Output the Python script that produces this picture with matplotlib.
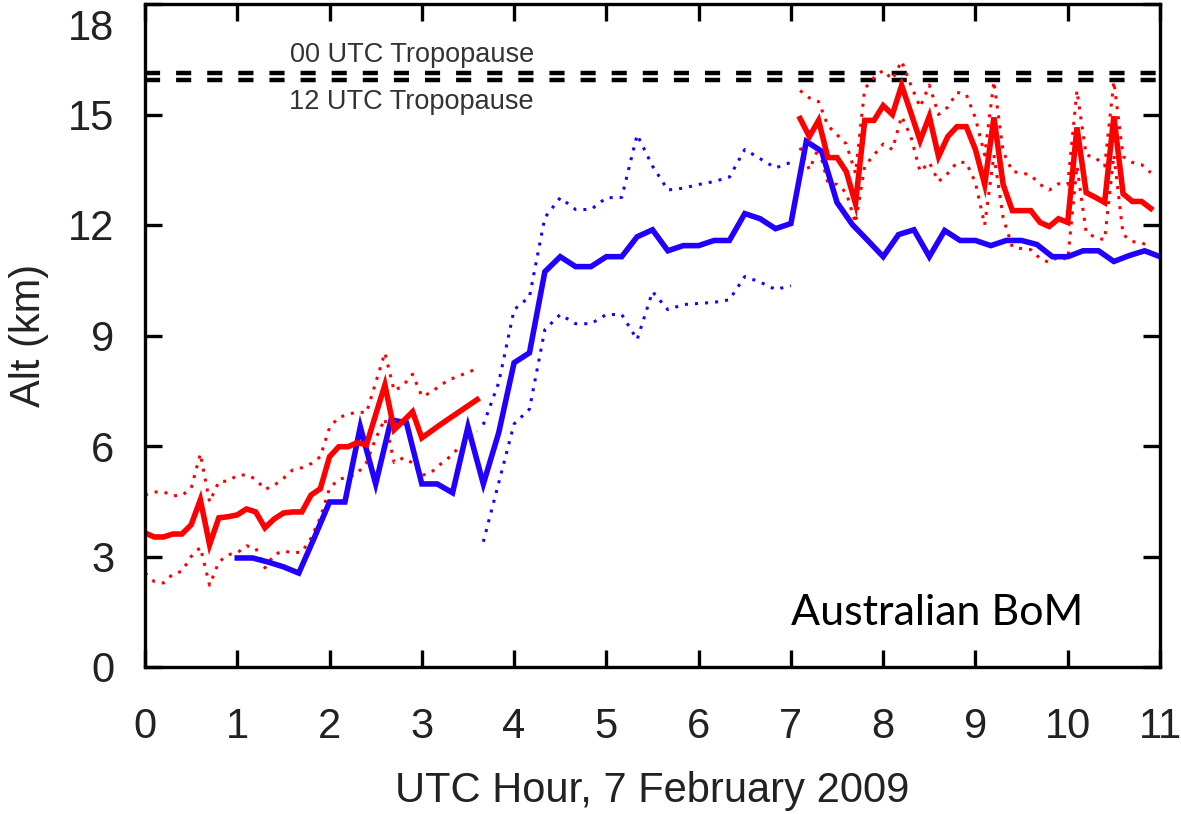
import numpy as np
import matplotlib
matplotlib.use('Agg')
import matplotlib.pyplot as plt
from matplotlib.transforms import ScaledTranslation

# BoM radar echo-top altitude (km) through the day, 7 Feb 2009
red_early_start, red_late_start, red_step = 0.0, 7.1, 0.1
red_early = [3.64, 3.53, 3.53, 3.61, 3.61, 3.86, 4.54, 3.32, 4.05, 4.08,
             4.13, 4.29, 4.21, 3.78, 4.02, 4.18, 4.21, 4.21, 4.67, 4.84,
             5.71, 5.98, 5.98, 6.09, 6.03, 6.85, 7.66, 6.44, 6.68, 6.93,
             6.22, 6.40, 6.58, 6.75, 6.92, 7.09, 7.26]
red_early_hi = [4.67, 4.75, 4.76, 4.65, 4.66, 4.85, 5.79, 4.48, 5.03, 5.05,
                5.20, 5.22, 5.10, 4.82, 4.93, 5.12, 5.35, 5.41, 5.52, 5.71,
                6.50, 6.78, 6.85, 6.93, 6.90, 7.72, 8.53, 7.50, 7.65, 7.95,
                7.35, 7.45, 7.65, 7.80, 7.90, 8.00, 8.10]
red_early_lo = [2.55, 2.32, 2.28, 2.52, 2.60, 3.00, 3.25, 2.22, 2.85, 3.05,
                3.10, 3.29, 3.23, 2.69, 3.05, 3.15, 3.10, 3.12, 3.50, 4.05,
                4.85, 5.10, 5.15, 5.25, 5.55, 6.20, 6.74, 5.55, 5.68, 5.54,
                5.20, 5.28, 5.50, 5.70, 5.95, 6.18, 6.40]

red_late = [14.89, 14.40, 14.84, 13.83, 13.83, 13.45, 12.58, 14.84, 14.84, 15.24,
            15.00, 15.79, 15.05, 14.29, 14.95, 13.86, 14.40, 14.67, 14.67, 14.05,
            13.10, 14.92, 13.10, 12.39, 12.39, 12.39, 12.07, 11.96, 12.17, 12.07,
            14.65, 12.88, 12.75, 12.61, 14.95, 12.85, 12.64, 12.64, 12.45]
red_late_hi = [15.65, 15.45, 15.35, 14.70, 14.45, 14.20, 13.40, 15.70, 16.00, 16.20,
               15.95, 16.45, 15.80, 15.20, 15.80, 15.00, 15.20, 15.60, 15.55, 14.90,
               13.90, 15.90, 14.00, 13.45, 13.42, 13.35, 13.10, 12.95, 13.12, 13.10,
               15.65, 13.90, 13.83, 13.60, 15.90, 13.86, 13.70, 13.64, 13.42]
red_late_lo = [14.10, 13.50, 14.10, 13.15, 13.10, 12.88, 12.05, 13.60, 13.90, 14.20,
               14.05, 14.95, 14.40, 13.45, 13.70, 13.18, 13.40, 13.70, 13.70, 13.15,
               12.00, 13.90, 12.20, 11.40, 11.36, 11.33, 11.09, 10.98, 11.14, 11.06,
               13.60, 11.80, 11.66, 11.60, 13.90, 11.74, 11.55, 11.52, 11.40]

blue_start, blue_bounds_start, blue_step = 1.0, 11 / 3, 1 / 6
blue = [2.96, 2.96, 2.85, 2.72, 2.55, 3.50, 4.48, 4.48, 6.52, 4.97,
        6.71, 6.63, 4.97, 4.97, 4.73, 6.52, 4.97, 6.36, 8.26, 8.53,
        10.73, 11.14, 10.87, 10.87, 11.14, 11.14, 11.68, 11.87, 11.30, 11.44,
        11.44, 11.58, 11.58, 12.31, 12.17, 11.90, 12.04, 14.27, 14.00, 12.61,
        12.01, 11.58, 11.14, 11.74, 11.87, 11.14, 11.85, 11.58, 11.58, 11.44,
        11.58, 11.58, 11.47, 11.14, 11.14, 11.30, 11.30, 11.01, 11.17, 11.30,
        11.14]
blue_hi = [6.58, 7.72, 9.70, 10.05, 12.20, 12.74, 12.42, 12.42, 12.74, 12.75,
           14.45, 13.60, 12.95, 13.00, 13.10, 13.18, 13.30, 14.05, 13.80, 13.55,
           13.70]
blue_lo = [3.40, 5.00, 6.60, 7.00, 9.16, 9.57, 9.32, 9.32, 9.57, 9.57,
           8.89, 10.19, 9.70, 9.84, 9.87, 9.90, 9.97, 10.60, 10.45, 10.25,
           10.35]

tropopause_00 = 16.12
tropopause_12 = 15.93


def hours(start, step, values):
    return start + step * np.arange(len(values))


RED = '#ff0000'
BLUE = '#2200ff'
dotted = (0, (1, 2.3))

fig = plt.figure(figsize=(11.81, 8.14), dpi=100)
ax = fig.add_axes([145 / 1181, 147 / 814, 1015 / 1181, 663 / 814])

for y in (tropopause_00, tropopause_12):
    ax.axhline(y, color='black', lw=3.2, ls=(0, (3.4, 3.6)), dash_capstyle='butt')

t_red_early = hours(red_early_start, red_step, red_early)
t_red_late = hours(red_late_start, red_step, red_late)
t_blue = hours(blue_start, blue_step, blue)
t_blue_b = hours(blue_bounds_start, blue_step, blue_hi)

for t, v in ((t_red_early, red_early_hi), (t_red_early, red_early_lo),
             (t_red_late, red_late_hi), (t_red_late, red_late_lo)):
    ax.plot(t, v, color=RED, lw=2.2, ls=dotted, dash_capstyle='butt')
for v in (blue_hi, blue_lo):
    ax.plot(t_blue_b, v, color=BLUE, lw=2.2, ls=dotted, dash_capstyle='butt')

ax.plot(t_blue, blue, color=BLUE, lw=4, solid_joinstyle='miter')
ax.plot(t_red_early, red_early, color=RED, lw=4, solid_joinstyle='miter')
ax.plot(t_red_late, red_late, color=RED, lw=4, solid_joinstyle='miter')

ax.set_xlim(0, 11)
ax.set_ylim(0, 18)
ax.set_xticks(range(0, 12))
ax.set_yticks(range(0, 19, 3))

font = 'Liberation Sans'
ax.tick_params(direction='in', length=12, width=2.4, top=True, right=True,
               labelsize=30, labelcolor='#222222')
ax.tick_params(axis='x', pad=29)
ax.tick_params(axis='y', pad=22)
for lab in ax.get_xticklabels() + ax.get_yticklabels():
    lab.set_fontfamily(font)
# keep the top label inside the figure
top_lab = ax.get_yticklabels()[-1]
top_lab.set_transform(top_lab.get_transform() +
                      ScaledTranslation(0, -0.2, fig.dpi_scale_trans))
for s in ax.spines.values():
    s.set_linewidth(2.4)

ax.set_xlabel('UTC Hour, 7 February 2009', fontsize=30, family=font,
              color='#222222', labelpad=17)
ax.set_ylabel('Alt (km)', fontsize=30, family=font, color='#222222', labelpad=14)

ax.text(2.89, 16.62, '00 UTC Tropopause', ha='center', va='center',
        fontsize=19.5, family=font, color='#333333')
ax.text(2.89, 15.33, '12 UTC Tropopause', ha='center', va='center',
        fontsize=19.5, family=font, color='#333333')
ax.text(7.0, 1.14, 'Australian BoM', ha='left', va='baseline',
        fontsize=31, family='Lato', color='black')

fig.savefig('out.png', dpi=100)
